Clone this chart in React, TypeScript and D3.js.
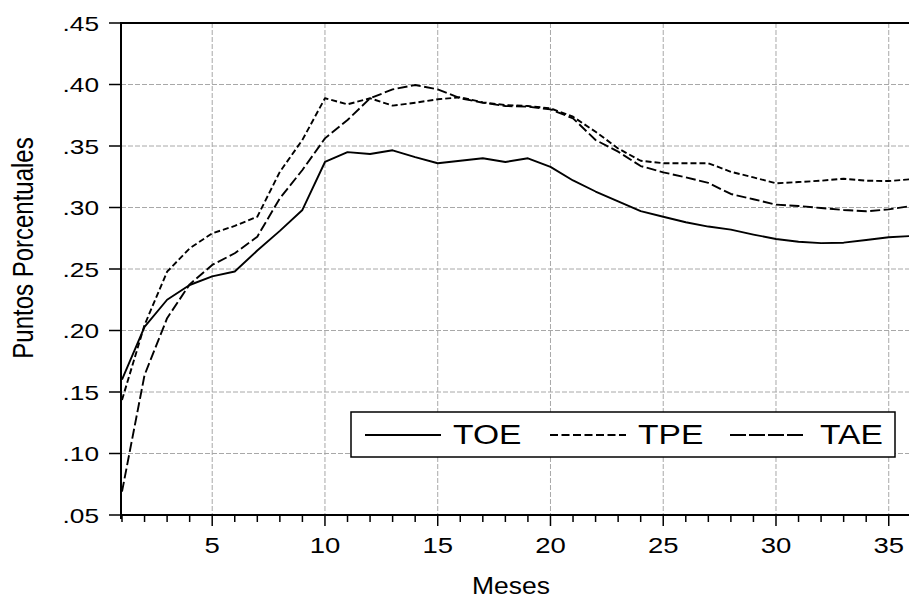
import React from "react";
import * as d3 from "d3";

const months = d3.range(1, 37);
const TOE = [0.160,0.203,0.225,0.237,0.244,0.248,0.265,0.281,0.298,0.337,0.345,0.3435,0.3465,0.341,0.336,0.338,0.340,0.337,0.340,0.333,0.322,0.313,0.305,0.297,0.2925,0.288,0.2845,0.282,0.278,0.2744,0.2722,0.271,0.2714,0.2736,0.2758,0.2768];
const TPE = [0.1435,0.2045,0.2478,0.2668,0.279,0.285,0.2925,0.329,0.355,0.3888,0.3839,0.3888,0.3828,0.3852,0.388,0.3896,0.3855,0.3833,0.3825,0.3806,0.3738,0.3616,0.348,0.338,0.336,0.336,0.336,0.329,0.3245,0.3197,0.3207,0.3218,0.3234,0.3218,0.3215,0.323];
const TAE = [0.069,0.1638,0.210,0.2375,0.2533,0.2628,0.2763,0.3075,0.3305,0.3562,0.3711,0.3888,0.396,0.3996,0.396,0.3888,0.3852,0.3825,0.382,0.3798,0.3725,0.3549,0.3454,0.3337,0.3286,0.3245,0.320,0.311,0.3067,0.3023,0.3012,0.2996,0.298,0.2969,0.2985,0.3012];
const yTicks = [0.05,0.10,0.15,0.20,0.25,0.30,0.35,0.40,0.45];
const yTickLabels = [".05",".10",".15",".20",".25",".30",".35",".40",".45"];
const xMajor = [5,10,15,20,25,30,35];
const seriesNames = ["TOE","TPE","TAE"];

const W = 909, H = 600;
const FONT = "Liberation Sans, Arial, sans-serif";
const KX = 1.25;

export default function App() {
  const x = d3.scaleLinear().domain([1, 36]).range([122, 911.3]);
  const y = d3.scaleLinear().domain([0.05, 0.45]).range([515, 23]);
  const line = d3.line<number>().x((_, i) => x(months[i])).y(d => y(d));
  const series = [
    { name: seriesNames[0], data: TOE, dash: undefined, legDash: undefined },
    { name: seriesNames[1], data: TPE, dash: "6,3", legDash: "8,3.5" },
    { name: seriesNames[2], data: TAE, dash: "10,3.5", legDash: "16,3" },
  ];
  const left = x(1) - 1, bottom = y(0.05), top = y(0.45);
  const legX = [365, 550, 730];
  const legTextX = [453, 638, 820];
  return (
    <svg width={W} height={H} style={{ position: "absolute", left: 0, top: 0, background: "#fff" }}>
      <rect x={0} y={0} width={W} height={H} fill="#fff" />
      {/* grid */}
      {yTicks.slice(1, -1).map(t => (
        <line key={"gy" + t} x1={left} x2={W} y1={y(t)} y2={y(t)} stroke="#a8a8a8" strokeWidth={1} strokeDasharray="5,2" />
      ))}
      {xMajor.map(t => (
        <line key={"gx" + t} x1={x(t)} x2={x(t)} y1={top} y2={bottom} stroke="#a8a8a8" strokeWidth={1} strokeDasharray="5,2" />
      ))}
      {/* lines */}
      {series.map(s => (
        <path key={s.name} d={line(s.data) || ""} fill="none" stroke="#000" strokeWidth={1.9} strokeDasharray={s.dash} strokeLinejoin="round" />
      ))}
      {/* frame */}
      <line x1={left} x2={W} y1={top} y2={top} stroke="#000" strokeWidth={2} />
      <line x1={left} x2={left} y1={top - 1} y2={bottom + 4} stroke="#000" strokeWidth={2} />
      <line x1={left} x2={W} y1={bottom} y2={bottom} stroke="#000" strokeWidth={2} />
      {/* y ticks */}
      {yTicks.map((t, i) => (
        <g key={"yt" + t}>
          <line x1={left - 12} x2={left} y1={y(t)} y2={y(t)} stroke="#000" strokeWidth={1.5} />
          <g transform={`translate(${99},${y(t) + 7.5}) scale(${KX},1)`}>
            <text x={0} y={0} textAnchor="end" fontFamily={FONT} fontSize={21} fill="#000">{yTickLabels[i]}</text>
          </g>
        </g>
      ))}
      {/* x ticks */}
      {months.map(m => (
        <line key={"xt" + m} x1={x(m)} x2={x(m)} y1={bottom} y2={bottom + (m % 5 === 0 ? 11 : 7)} stroke="#000" strokeWidth={1.5} />
      ))}
      {xMajor.map(t => (
        <g key={"xl" + t} transform={`translate(${x(t)},${553}) scale(${KX},1)`}>
          <text x={0} y={0} textAnchor="middle" fontFamily={FONT} fontSize={22} fill="#000">{t}</text>
        </g>
      ))}
      {/* axis titles */}
      <g transform={`translate(511,594) scale(1.15,1)`}>
        <text textAnchor="middle" fontFamily={FONT} fontSize={23} fill="#000">Meses</text>
      </g>
      <g transform={`translate(33,248) scale(1.2,1) rotate(-90)`}>
        <text textAnchor="middle" fontFamily={FONT} fontSize={24} fill="#000">Puntos Porcentuales</text>
      </g>
      {/* legend */}
      <rect x={351} y={412} width={544} height={45} fill="#fff" stroke="#000" strokeWidth={1.5} />
      {series.map((s, i) => (
        <g key={"lg" + s.name}>
          <line x1={legX[i]} x2={legX[i] + 76} y1={435} y2={435} stroke="#000" strokeWidth={1.8} strokeDasharray={s.legDash} />
          <g transform={`translate(${legTextX[i]},${444}) scale(1.2,1)`}>
            <text x={0} y={0} fontFamily={FONT} fontSize={28} fill="#000">{s.name}</text>
          </g>
        </g>
      ))}
    </svg>
  );
}
